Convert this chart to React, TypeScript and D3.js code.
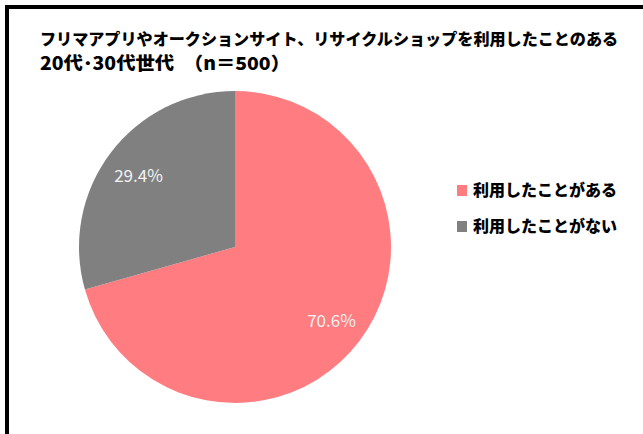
import React from "react";
import * as d3 from "d3";

const categories = ["利用したことがある", "利用したことがない"];
const values = [70.6, 29.4];
const colors = ["#FF7C80", "#808080"];
const titleLines = [
  "フリマアプリやオークションサイト、リサイクルショップを利用したことのある",
  "20代･30代世代　（n＝500）",
];

const W = 643;
const H = 434;
const cx = 235;
const cy = 247;
const R = 156;

export default function App() {
  const pie = d3.pie<number>().sort(null).value((d) => d);
  const arcs = pie(values);
  const arcGen = d3.arc<d3.PieArcDatum<number>>().innerRadius(0).outerRadius(R);
  const labelArc = d3
    .arc<d3.PieArcDatum<number>>()
    .innerRadius(121)
    .outerRadius(121);
  const font = "'Noto Sans CJK JP', 'Noto Sans', sans-serif";
  return (
    <svg
      width={W}
      height={H}
      style={{ position: "absolute", left: 0, top: 0, background: "#fff" }}
    >
      <rect x={0} y={0} width={W} height={H} fill="#fff" />
      <path d={`M7,${H} L7,7 L${W},7`} fill="none" stroke="#000" strokeWidth={4} />
      <text
        x={40}
        y={45}
        fontFamily={font}
        fontWeight={900}
        fontSize={16.1}
        fill="#000"
      >
        {titleLines[0]}
      </text>
      <text
        x={40}
        y={70}
        fontFamily={font}
        fontWeight={900}
        fontSize={18}
        fill="#000"
        textLength={250}
        lengthAdjust="spacingAndGlyphs"
      >
        {titleLines[1]}
      </text>
      <g transform={`translate(${cx},${cy})`}>
        {arcs.map((a, i) => (
          <path key={i} d={arcGen(a) || ""} fill={colors[i]} />
        ))}
        {arcs.map((a, i) => {
          const [x, y] = labelArc.centroid(a);
          return (
            <text
              key={"l" + i}
              x={x}
              y={y}
              textAnchor="middle"
              dominantBaseline="central"
              fontFamily={font}
              fontSize={17}
              fill="#F2F2F2"
            >
              {values[i].toFixed(1)}%
            </text>
          );
        })}
      </g>
      {categories.map((c, i) => (
        <g key={c} transform={`translate(457,${185 + i * 36})`}>
          <rect x={0} y={0} width={10} height={11} fill={colors[i]} />
          <text
            x={16}
            y={11}
            fontFamily={font}
            fontWeight={900}
            fontSize={16}
            fill="#000"
          >
            {c}
          </text>
        </g>
      ))}
    </svg>
  );
}
